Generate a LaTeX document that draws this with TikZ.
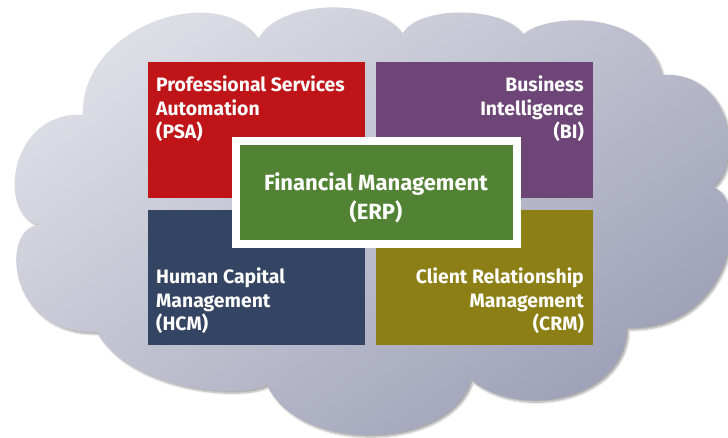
\documentclass[tikz,border=0pt]{standalone}
\usepackage{fontspec}
\setmainfont{Fira Sans}
\usetikzlibrary{shadows.blur}
\definecolor{cloudA}{RGB}{222,223,230}
\definecolor{cloudB}{RGB}{156,158,182}
\definecolor{psared}{RGB}{191,20,24}
\definecolor{bipurple}{RGB}{110,69,119}
\definecolor{hcmnavy}{RGB}{51,69,98}
\definecolor{crmolive}{RGB}{140,127,22}
\definecolor{erpgreen}{RGB}{82,130,52}
\tikzset{
  panel/.style={rectangle, inner sep=0pt, outer sep=0pt, minimum width=217pt, minimum height=136pt},
  lbl/.style={text=white, inner sep=0pt, font=\bfseries\fontsize{19.4}{23.5}\selectfont},
  erpbox/.style={rectangle, fill=erpgreen, draw=white, line width=8pt, inner sep=0pt, minimum width=281pt, minimum height=103pt},
  erplbl/.style={text=white, inner sep=0pt, align=center, font=\bfseries\fontsize{22}{29}\selectfont},
  cloudstyle/.style={top color=cloudA, bottom color=cloudB, shading angle=35,
     blur shadow={shadow xshift=2pt, shadow yshift=-2pt, shadow blur steps=6, shadow opacity=35}}
}
\begin{document}
\begin{tikzpicture}[x=1pt,y=-1pt]
\useasboundingbox (0,0) rectangle (728,437);
% cloud
\path[cloudstyle]
  (83,115) .. controls (80,25) and (220,-20) .. (258,40)
  .. controls (275,0) and (380,-5) .. (402,35)
  .. controls (415,5) and (505,5) .. (523,35)
  .. controls (540,15) and (645,5) .. (662,75)
  .. controls (730,70) and (745,160) .. (713,187)
  .. controls (750,200) and (735,330) .. (627,328)
  .. controls (625,400) and (520,420) .. (471,380)
  .. controls (450,450) and (300,455) .. (267,385)
  .. controls (240,400) and (130,390) .. (97,332)
  .. controls (5,335) and (0,225) .. (40,225)
  .. controls (-5,215) and (10,110) .. (83,115) -- cycle;
% panels
\node[panel, fill=psared] (psa) at (256.5,130) {};
\node[panel, fill=bipurple] (bi) at (484.5,130) {};
\node[panel, fill=hcmnavy, minimum height=135pt] (hcm) at (256.5,277.5) {};
\node[panel, fill=crmolive, minimum height=135pt] (crm) at (484.5,277.5) {};
\node[lbl, anchor=north west, align=left] (psat) at (156,76) {Professional Services\\Automation\\(PSA)};
\node[lbl, anchor=north east, align=right] (bit) at (584,76) {Business\\Intelligence\\(BI)};
\node[lbl, anchor=north west, align=left] (hcmt) at (156,268) {Human Capital\\Management\\(HCM)};
\node[lbl, anchor=north east, align=right] (crmt) at (584,268) {Client Relationship\\Management\\(CRM)};
% ERP
\node[erpbox] (erp) at (376.5,192.5) {};
\node[erplbl, anchor=north] (erpt) at (376,172) {Financial Management\\(ERP)};
\end{tikzpicture}
\end{document}
